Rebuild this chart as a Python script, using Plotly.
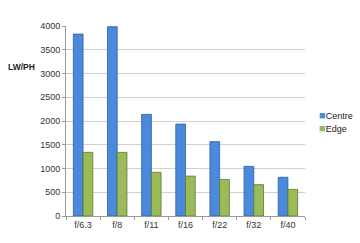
import plotly.graph_objects as go

categories = ["f/6.3", "f/8", "f/11", "f/16", "f/22", "f/32", "f/40"]
centre = [3830, 3985, 2140, 1935, 1565, 1045, 815]
edge = [1340, 1340, 920, 840, 770, 660, 560]
y_ticks = [0, 500, 1000, 1500, 2000, 2500, 3000, 3500, 4000]
series_names = ["Centre", "Edge"]
series_colors = ["#4A89DC", "#9BBB59"]
series_lines = ["#2F5E9E", "#5E7A2E"]

fig = go.Figure()
for name, vals, col, lc in zip(series_names, [centre, edge], series_colors, series_lines):
    fig.add_trace(go.Bar(x=categories, y=vals, name=name,
                         marker=dict(color=col, line=dict(color=lc, width=0.8))))

L, R, T, B = 66, 55, 26, 27
pw, ph = 360 - L - R, 243 - T - B

annotations = [dict(text="<b>LW/PH</b>", x=(21 - L) / pw, y=(216 - 67) / ph,
                    xref="paper", yref="paper", xanchor="center", yanchor="middle",
                    showarrow=False, font=dict(size=8.5, color="#222222"))]
for i, (name, col) in enumerate(zip(series_names, series_colors)):
    annotations.append(dict(
        text=f"<span style='color:{col};font-size:11px'>■</span>{name}",
        x=(317 - L) / pw, y=(216 - (115 + 13 * i)) / ph,
        xref="paper", yref="paper", xanchor="left", yanchor="middle",
        showarrow=False, font=dict(size=9, color="#222222")))

fig.update_layout(
    width=360, height=243,
    margin=dict(l=L, r=R, t=T, b=B),
    paper_bgcolor="white", plot_bgcolor="white",
    barmode="group", bargap=0.43, bargroupgap=0,
    font=dict(family="Liberation Sans", size=9, color="#333333"),
    showlegend=False,
    xaxis=dict(showline=True, linecolor="#999999", linewidth=1,
               ticks="outside", ticklen=3, tickcolor="#999999",
               tickson="boundaries", showgrid=False,
               tickfont=dict(size=9, color="#333333")),
    yaxis=dict(range=[0, 4000], tickvals=y_ticks, showgrid=True,
               gridcolor="#D0D0D0", gridwidth=1, showline=True,
               linecolor="#999999", linewidth=1, ticks="outside",
               ticklen=3, tickcolor="#999999", zeroline=False,
               tickfont=dict(size=9, color="#333333")),
    annotations=annotations,
)

fig.write_html("out.html")
